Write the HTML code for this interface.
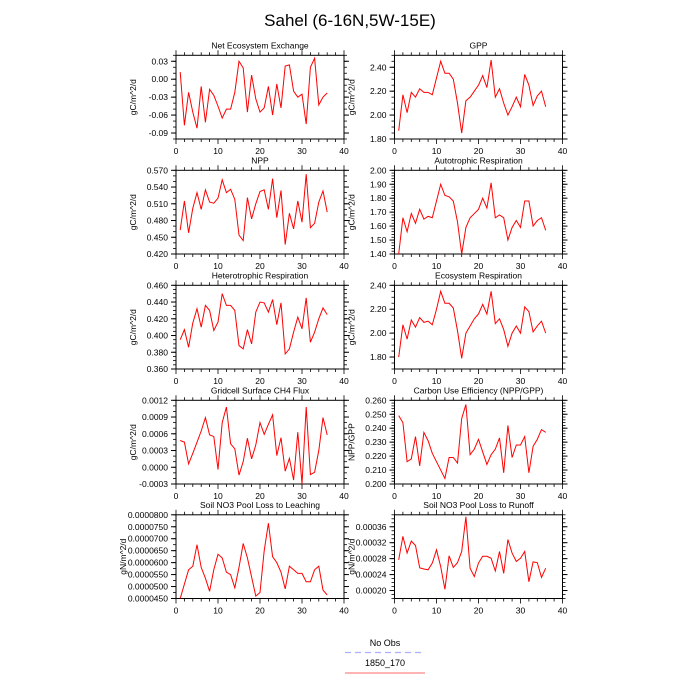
<!DOCTYPE html>
<html><head><meta charset="utf-8"><style>
body{margin:0;background:#fff;}
svg{display:block;font-family:"Liberation Sans",sans-serif;}
</style></head><body>
<svg id="chart" width="700" height="700" viewBox="0 0 700 700">
<rect width="700" height="700" fill="#fff"/>
<text x="350" y="26" font-size="17" text-anchor="middle">Sahel (6-16N,5W-15E)</text>
<g id="panels"></g>
<g>
<text x="385" y="646" font-size="9" text-anchor="middle">No Obs</text>
<line x1="345" y1="652.5" x2="425" y2="652.5" stroke="#aab0ff" stroke-width="1.2" stroke-dasharray="6,4"/>
<text x="385" y="666" font-size="9" text-anchor="middle">1850_170</text>
<line x1="345" y1="673" x2="425" y2="673" stroke="#ff8888" stroke-width="1.2"/>
</g>
</svg>
<script>
const years = Array.from({length:36},(_,i)=>i+1);
const xTicks = [0,10,20,30,40];
const neeValues = [0.012,-0.077,-0.022,-0.055,-0.082,-0.012,-0.072,-0.017,-0.027,-0.045,-0.065,-0.050,-0.050,-0.022,0.030,0.019,-0.055,0.007,-0.033,-0.055,-0.048,-0.012,-0.060,-0.008,-0.048,0.022,0.024,-0.020,-0.030,-0.025,-0.075,0.020,0.035,-0.043,-0.030,-0.023];
const neeTicks = ["0.03","0.00","-0.03","-0.06","-0.09"];
const gppValues = [1.87,2.17,2.02,2.19,2.15,2.22,2.19,2.19,2.17,2.31,2.45,2.35,2.35,2.30,2.10,1.85,2.12,2.15,2.20,2.25,2.33,2.23,2.46,2.15,2.22,2.10,2.00,2.07,2.15,2.07,2.34,2.25,2.08,2.16,2.20,2.07];
const gppTicks = ["1.80","2.00","2.20","2.40"];
const nppValues = [0.463,0.515,0.458,0.502,0.530,0.500,0.535,0.513,0.511,0.520,0.553,0.530,0.536,0.518,0.454,0.444,0.521,0.483,0.510,0.532,0.535,0.500,0.555,0.485,0.534,0.437,0.493,0.465,0.515,0.477,0.563,0.467,0.475,0.513,0.533,0.495];
const nppTicks = ["0.420","0.450","0.480","0.510","0.540","0.570"];
const arValues = [1.40,1.66,1.56,1.69,1.62,1.72,1.65,1.67,1.66,1.78,1.90,1.82,1.81,1.78,1.63,1.40,1.59,1.66,1.69,1.72,1.80,1.73,1.91,1.66,1.68,1.66,1.50,1.59,1.64,1.59,1.78,1.78,1.60,1.64,1.66,1.57];
const arTicks = ["1.40","1.50","1.60","1.70","1.80","1.90","2.00"];
const hrValues = [0.395,0.407,0.386,0.415,0.432,0.410,0.436,0.430,0.406,0.416,0.450,0.436,0.436,0.430,0.388,0.384,0.407,0.390,0.428,0.440,0.439,0.428,0.443,0.413,0.439,0.378,0.384,0.404,0.422,0.408,0.445,0.392,0.404,0.420,0.433,0.425];
const hrTicks = ["0.360","0.380","0.400","0.420","0.440","0.460"];
const erValues = [1.80,2.07,1.95,2.11,2.05,2.13,2.09,2.10,2.07,2.20,2.35,2.25,2.25,2.21,2.02,1.79,2.00,2.06,2.12,2.16,2.24,2.16,2.35,2.08,2.12,2.03,1.89,2.00,2.06,2.00,2.22,2.18,2.01,2.06,2.10,2.00];
const erTicks = ["1.80","2.00","2.20","2.40"];
const ch4Values = [4.8,4.5,0.6,2.5,4.5,6.5,8.9,5.8,5.5,-0.4,8.0,10.8,4.2,3.3,-1.4,1.0,5.2,1.5,4.0,8.0,5.9,7.7,9.4,2.1,5.3,-0.7,1.6,-2.3,6.3,-3.0,10.8,-1.3,-0.9,3.0,8.9,5.8].map(v=>v*1e-4);
const ch4Ticks = ["-0.0003","0.0000","0.0003","0.0006","0.0009","0.0012"];
const cueValues = [0.249,0.244,0.216,0.218,0.234,0.213,0.237,0.231,0.222,0.216,0.210,0.204,0.219,0.219,0.215,0.247,0.257,0.221,0.225,0.232,0.223,0.214,0.221,0.225,0.233,0.208,0.242,0.219,0.228,0.228,0.234,0.208,0.227,0.232,0.239,0.237];
const cueTicks = ["0.200","0.210","0.220","0.230","0.240","0.250","0.260"];
const leachValues = [45.0,51,57,58.5,67.5,58,53.5,48,57,63.5,62,56,55,49.5,58,68,62,54,46,47.5,65,76.5,62.5,60,56,49,58.5,57,55.5,55.5,52,52,57,58.5,48.5,46.5].map(v=>v*1e-6);
const leachTicks = ["0.0000450","0.0000500","0.0000550","0.0000600","0.0000650","0.0000700","0.0000750","0.0000800"];
const runoffValues = [27.7,33.6,29.4,32.4,31.3,25.7,25.4,25.2,26.9,30.2,26.0,20.3,28.7,25.8,27.0,29.8,38.5,25.6,23.5,26.9,28.6,28.6,28.1,24.9,29.8,24.3,32.8,29.4,27.3,28.1,29.8,22.2,27.2,27.0,23.3,25.6].map(v=>v*1e-5);
const runoffTicks = ["0.00020","0.00024","0.00028","0.00032","0.00036"];

const panels = [
 {name:"nee",title:"Net Ecosystem Exchange",yt:"gC/m^2/d",v:neeValues,t:neeTicks,min:-0.10,max:0.04,minor:0.01,col:0,row:0},
 {name:"gpp",title:"GPP",yt:"gC/m^2/d",v:gppValues,t:gppTicks,min:1.80,max:2.50,minor:0.05,col:1,row:0},
 {name:"npp",title:"NPP",yt:"gC/m^2/d",v:nppValues,t:nppTicks,min:0.42,max:0.57,minor:0.01,col:0,row:1},
 {name:"ar",title:"Autotrophic Respiration",yt:"gC/m^2/d",v:arValues,t:arTicks,min:1.40,max:2.00,minor:0.02,col:1,row:1},
 {name:"hr",title:"Heterotrophic Respiration",yt:"gC/m^2/d",v:hrValues,t:hrTicks,min:0.36,max:0.46,minor:0.005,col:0,row:2},
 {name:"er",title:"Ecosystem Respiration",yt:"gC/m^2/d",v:erValues,t:erTicks,min:1.70,max:2.40,minor:0.05,col:1,row:2},
 {name:"ch4",title:"Gridcell Surface CH4 Flux",yt:"gC/m^2/d",v:ch4Values,t:ch4Ticks,min:-0.0003,max:0.0012,minor:0.0001,col:0,row:3},
 {name:"cue",title:"Carbon Use Efficiency (NPP/GPP)",yt:"NPP/GPP",v:cueValues,t:cueTicks,min:0.200,max:0.260,minor:0.002,col:1,row:3},
 {name:"leach",title:"Soil NO3 Pool Loss to Leaching",yt:"gN/m^2/d",v:leachValues,t:leachTicks,min:0.000045,max:0.00008,minor:0.0000025,col:0,row:4},
 {name:"runoff",title:"Soil NO3 Pool Loss to Runoff",yt:"gN/m^2/d",v:runoffValues,t:runoffTicks,min:0.00018,max:0.00039,minor:0.00001,col:1,row:4}
];
const NS="http://www.w3.org/2000/svg";
const root=document.getElementById("panels");
function mk(tag,attrs,parent){const e=document.createElementNS(NS,tag);for(const k in attrs)e.setAttribute(k,attrs[k]);parent.appendChild(e);return e;}
const X0=[176,394.5], W=168, Y0=[55.3,170.3,285.3,400.3,514.8], H=83.7;
panels.forEach(p=>{
  const x0=X0[p.col], y0=Y0[p.row];
  const g=mk("g",{},root);
  
  
  const xs=v=>x0+v/40*W;
  const ys=v=>y0+H-(v-p.min)/(p.max-p.min)*H;
  const title=mk("text",{x:x0+W/2,y:y0-7,"font-size":"8.5","text-anchor":"middle"},g);
  title.textContent=p.title;
  
  
  const n=Math.round((p.max-p.min)/p.minor);
  for(let i=0;i<=n;i++){const y=ys(p.min+i*p.minor);
    mk("line",{x1:x0-3,x2:x0,y1:y,y2:y,stroke:"#000","stroke-width":"0.8"},g);
    mk("line",{x1:x0+W,x2:x0+W+3,y1:y,y2:y,stroke:"#000","stroke-width":"0.8"},g);}
  p.t.forEach(lbl=>{const y=ys(parseFloat(lbl));
    mk("line",{x1:x0-5,x2:x0,y1:y,y2:y,stroke:"#000","stroke-width":"1"},g);
    mk("line",{x1:x0+W,x2:x0+W+5,y1:y,y2:y,stroke:"#000","stroke-width":"1"},g);
    const t=mk("text",{x:x0-8,y:y+3,"font-size":"8.5","text-anchor":"end"},g);
    t.textContent=lbl;
    
    });
  for(let v=0;v<=40;v+=2){const x=xs(v), L=(v%10===0)?5:3;
    mk("line",{x1:x,x2:x,y1:y0+H,y2:y0+H+L,stroke:"#000","stroke-width":"0.8"},g);
    mk("line",{x1:x,x2:x,y1:y0-L,y2:y0,stroke:"#000","stroke-width":"0.8"},g);}
  xTicks.forEach(v=>{const t=mk("text",{x:xs(v),y:y0+H+15,"font-size":"8.5","text-anchor":"middle"},g);
    t.textContent=v;
    
    });
  const yl=mk("text",{transform:`translate(${x0-(p.name==="leach"?50:40)},${y0+H/2}) rotate(-90)`,"font-size":"8.5","text-anchor":"middle"},g);
  yl.textContent=p.yt;
  
  
  const fr=mk("rect",{x:x0,y:y0,width:W,height:H,fill:"none",stroke:"#000","stroke-width":"1"},g);
  
  
  const pts=p.v.map((v,i)=>xs(years[i]).toFixed(2)+","+ys(v).toFixed(2)).join(" ");
  const line=mk("polyline",{points:pts,fill:"none",stroke:"#ff0000","stroke-width":"1"},g);
  
  
});
</script>
</body></html>
